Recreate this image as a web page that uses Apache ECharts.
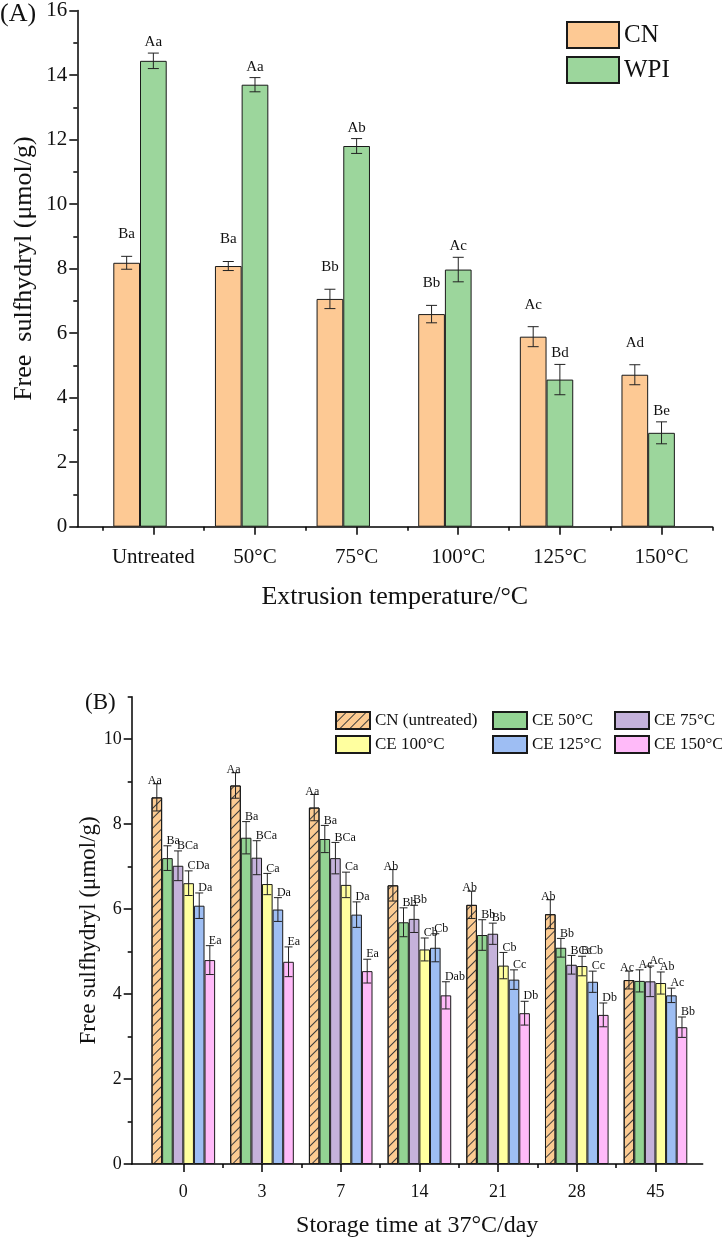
<!DOCTYPE html>
<html><head><meta charset="utf-8">
<script src="https://cdn.jsdelivr.net/npm/echarts@6/dist/echarts.min.js"></script>
<style>html,body{margin:0;padding:0;background:#fff}#c{width:722px;height:1239px}</style>
</head><body><div id="c"></div>
<script>
// ---------- Panel A data ----------
const tempCats = ['Untreated', '50°C', '75°C', '100°C', '125°C', '150°C'];
const cnA = [8.18, 8.08, 7.06, 6.59, 5.89, 4.71];
const cnErrA = [0.20, 0.14, 0.30, 0.27, 0.31, 0.31];
const wpiA = [14.44, 13.70, 11.80, 7.97, 4.56, 2.91];
const wpiErrA = [0.24, 0.22, 0.23, 0.38, 0.47, 0.34];
const cnLblA = ['Ba', 'Ba', 'Bb', 'Bb', 'Ac', 'Ad'];
const wpiLblA = ['Aa', 'Aa', 'Ab', 'Ac', 'Bd', 'Be'];

// ---------- Panel B data ----------
const days = ['0', '3', '7', '14', '21', '28', '45'];
const seriesNamesB = ['CN (untreated)', 'CE 50°C', 'CE 75°C', 'CE 100°C', 'CE 125°C', 'CE 150°C'];
const cnB = [8.63, 8.91, 8.39, 6.56, 6.10, 5.88, 4.33];
const cnErrB = [0.32, 0.30, 0.31, 0.37, 0.32, 0.34, 0.21];
const ce50 = [7.20, 7.68, 7.65, 5.69, 5.39, 5.09, 4.31];
const ce50Err = [0.29, 0.38, 0.32, 0.34, 0.36, 0.22, 0.26];
const ce75 = [7.02, 7.21, 7.20, 5.77, 5.42, 4.69, 4.30];
const ce75Err = [0.35, 0.40, 0.37, 0.32, 0.25, 0.22, 0.36];
const ce100 = [6.61, 6.59, 6.57, 5.05, 4.67, 4.66, 4.26];
const ce100Err = [0.29, 0.25, 0.30, 0.27, 0.31, 0.23, 0.26];
const ce125 = [6.08, 5.99, 5.87, 5.09, 4.34, 4.29, 3.97];
const ce125Err = [0.30, 0.28, 0.30, 0.33, 0.23, 0.25, 0.17];
const ce150 = [4.80, 4.76, 4.54, 3.97, 3.55, 3.51, 3.22];
const ce150Err = [0.34, 0.35, 0.28, 0.32, 0.28, 0.28, 0.24];
const cnLblB = ['Aa', 'Aa', 'Aa', 'Ab', 'Ab', 'Ab', 'Ac'];
const ce50Lbl = ['Ba', 'Ba', 'Ba', 'Bb', 'Bb', 'Bb', 'Ac'];
const ce75Lbl = ['BCa', 'BCa', 'BCa', 'Bb', 'Bb', 'BCc', 'Ac'];
const ce100Lbl = ['CDa', 'Ca', 'Ca', 'Cb', 'Cb', 'BCb', 'Ab'];
const ce125Lbl = ['Da', 'Da', 'Da', 'Cb', 'Cc', 'Cc', 'Ac'];
const ce150Lbl = ['Ea', 'Ea', 'Ea', 'Dab', 'Db', 'Db', 'Bb'];
const yTicksB = [0, 2, 4, 6, 8, 10];
const yMinorB = [1, 3, 5, 7, 9, 11];

// ---------- styles ----------
const FONT = "'Liberation Serif', 'Times New Roman', serif";
const colA = ['#FDC994', '#9CD69C'];
const colB = ['#FCCB92', '#93D393', '#C5B2DB', '#FFFF9F', '#9EBEF3', '#FFBAF9'];
const BW_A = 26.7, BW_B = 10.6;
const SHIFT_A = 0.131;   // tick offset relative to bar-pair centre (layout)

const chart = echarts.init(document.getElementById('c'));

function errSeries(name, xi, yi, vals, errs, labels, offsetPx, cap, mode, fs) {
  return {
    type: 'custom', name: name, xAxisIndex: xi, yAxisIndex: yi, z: 5, clip: false,
    encode: { x: 0, y: 1 },
    data: vals.map((v, i) => [i, v, errs[i]]),
    renderItem: function (params, api) {
      const x = api.value(0), v = api.value(1), e = api.value(2);
      const t = api.coord([x, v + e]), b = api.coord([x, v - e]);
      const cx = t[0] + offsetPx;
      const st = { stroke: '#222', lineWidth: 1 };
      const lbl = labels[params.dataIndex];
      let tx, ty, align;
      if (mode === 'A0') { tx = cx; ty = t[1] - 22; align = 'center'; }
      else if (mode === 'A1') { tx = cx; ty = t[1] - 11; align = 'center'; }
      else if (mode === 'B0') { tx = cx - 2; ty = t[1] - 3; align = 'center'; }
      else { tx = cx - 1; ty = t[1] - 5; align = 'left'; }
      return { type: 'group', children: [
        { type: 'line', shape: { x1: cx, y1: t[1], x2: cx, y2: b[1] }, style: st },
        { type: 'line', shape: { x1: cx - cap, y1: t[1], x2: cx + cap, y2: t[1] }, style: st },
        { type: 'line', shape: { x1: cx - cap, y1: b[1], x2: cx + cap, y2: b[1] }, style: st },
        { type: 'text', x: tx, y: ty, style: { text: lbl, fontFamily: FONT, fontSize: fs, fill: '#111', align: align, verticalAlign: 'middle' } }
      ] };
    }
  };
}

const axisLineStyle = { color: '#000', width: 1.5 };
const tickStyle = { color: '#000', width: 1.5 };

const valsB = [cnB, ce50, ce75, ce100, ce125, ce150];
const errsB = [cnErrB, ce50Err, ce75Err, ce100Err, ce125Err, ce150Err];
const lblsB = [cnLblB, ce50Lbl, ce75Lbl, ce100Lbl, ce125Lbl, ce150Lbl];

const seriesB = [];
valsB.forEach((vals, k) => {
  const it = { color: colB[k], borderColor: '#1a1a1a', borderWidth: 1 };
  if (k === 0) it.decal = { symbol: 'rect', symbolSize: 1, dashArrayX: [1, 0], dashArrayY: [1, 6], rotation: -Math.PI / 4, color: '#3a3a3a' };
  seriesB.push({
    type: 'bar', name: seriesNamesB[k], xAxisIndex: 2, yAxisIndex: 1,
    barWidth: BW_B, barGap: '0%', itemStyle: it,
    data: vals.map((v, i) => [i, v])
  });
});
valsB.forEach((vals, k) => {
  seriesB.push(errSeries('errB' + k, 2, 1, vals, errsB[k], lblsB[k], (k - 2.5) * BW_B, 4, k === 0 ? 'B0' : 'B', 12));
});

const option = {
  animation: false,
  backgroundColor: '#fff',
  textStyle: { fontFamily: FONT },
  grid: [
    { left: 77.3, top: 10, width: 635, height: 516.7 },
    { left: 131.7, top: 696.7, width: 571, height: 468.3 }
  ],
  xAxis: [
    { gridIndex: 0, type: 'value', position: 'bottom', min: -0.748 + SHIFT_A, max: 5.5 + SHIFT_A,
      axisLine: { show: true, onZero: false, lineStyle: axisLineStyle }, splitLine: { show: false },
      axisTick: { show: true, length: 8, lineStyle: tickStyle, customValues: tempCats.map((c, i) => i + SHIFT_A) },
      axisLabel: { customValues: tempCats.map((c, i) => i + SHIFT_A), formatter: v => tempCats[Math.round(v - SHIFT_A)],
        fontFamily: FONT, fontSize: 21, color: '#111', margin: 20 },
      name: 'Extrusion temperature/°C', nameLocation: 'middle', nameGap: 57, nameMoveOverlap: false,
      nameTextStyle: { fontFamily: FONT, fontSize: 26, color: '#111' } },
    { gridIndex: 0, type: 'value', position: 'bottom', min: -0.748 + SHIFT_A, max: 5.5 + SHIFT_A,
      axisLine: { show: false, onZero: false }, splitLine: { show: false }, axisLabel: { show: false },
      axisTick: { show: true, length: 4, lineStyle: tickStyle, customValues: tempCats.map((c, i) => i - 0.5 + SHIFT_A).concat([5.5 + SHIFT_A]) } },
    { gridIndex: 1, type: 'value', position: 'bottom', min: -0.656, max: 6.6,
      axisLine: { show: true, onZero: false, lineStyle: axisLineStyle }, splitLine: { show: false },
      axisTick: { show: true, length: 8, lineStyle: tickStyle, customValues: days.map((d, i) => i) },
      axisLabel: { customValues: days.map((d, i) => i), formatter: v => days[Math.round(v)],
        fontFamily: FONT, fontSize: 18, color: '#111', margin: 19 },
      name: 'Storage time at 37°C/day', nameLocation: 'middle', nameGap: 50, nameMoveOverlap: false,
      nameTextStyle: { fontFamily: FONT, fontSize: 24, color: '#111' } },
    { gridIndex: 1, type: 'value', position: 'bottom', min: -0.656, max: 6.6,
      axisLine: { show: false, onZero: false }, splitLine: { show: false }, axisLabel: { show: false },
      axisTick: { show: true, length: 4, lineStyle: tickStyle, customValues: days.slice(1).map((d, i) => i + 0.5) } }
  ],
  yAxis: [
    { gridIndex: 0, type: 'value', position: 'left', min: 0, max: 16, interval: 2,
      axisLine: { show: true, onZero: false, lineStyle: axisLineStyle }, splitLine: { show: false },
      axisTick: { show: true, length: 8, lineStyle: tickStyle },
      minorTick: { show: true, splitNumber: 2, length: 4, lineStyle: tickStyle },
      axisLabel: { fontFamily: FONT, fontSize: 21, color: '#111', margin: 10 },
      name: 'Free  sulfhydryl (μmol/g)', nameLocation: 'middle', nameGap: 40, nameMoveOverlap: false,
      nameTextStyle: { fontFamily: FONT, fontSize: 26, color: '#111' } },
    { gridIndex: 1, type: 'value', position: 'left', min: 0, max: 11,
      axisLine: { show: true, onZero: false, lineStyle: axisLineStyle }, splitLine: { show: false },
      axisTick: { show: true, length: 8, lineStyle: tickStyle, customValues: yTicksB },
      axisLabel: { fontFamily: FONT, fontSize: 18, color: '#111', margin: 10, customValues: yTicksB },
      name: 'Free sulfhydryl (μmol/g)', nameLocation: 'middle', nameGap: 31, nameMoveOverlap: false,
      nameTextStyle: { fontFamily: FONT, fontSize: 23, color: '#111' } },
    { gridIndex: 1, type: 'value', position: 'left', min: 0, max: 11,
      axisLine: { show: false, onZero: false }, splitLine: { show: false }, axisLabel: { show: false },
      axisTick: { show: true, length: 4, lineStyle: tickStyle, customValues: yMinorB } }
  ],
  legend: [
    { data: ['CN', 'WPI'], orient: 'vertical', left: 561, top: 16, icon: 'rect',
      itemWidth: 52, itemHeight: 26, itemGap: 7, textStyle: { fontFamily: FONT, fontSize: 25, color: '#111' } },
    { data: [seriesNamesB[0], seriesNamesB[3]], orient: 'vertical', left: 330, top: 706, icon: 'rect',
      itemWidth: 34, itemHeight: 17, itemGap: 5, textStyle: { fontFamily: FONT, fontSize: 17, color: '#111' } },
    { data: [seriesNamesB[1], seriesNamesB[4]], orient: 'vertical', left: 487, top: 706, icon: 'rect',
      itemWidth: 34, itemHeight: 17, itemGap: 5, textStyle: { fontFamily: FONT, fontSize: 17, color: '#111' } },
    { data: [seriesNamesB[2], seriesNamesB[5]], orient: 'vertical', left: 609, top: 706, icon: 'rect',
      itemWidth: 34, itemHeight: 17, itemGap: 5, textStyle: { fontFamily: FONT, fontSize: 17, color: '#111' } }
  ],
  graphic: [
    { type: 'text', left: 0, top: 1, style: { text: '(A)', fontFamily: FONT, fontSize: 26, fill: '#111' } },
    { type: 'text', left: 85, top: 691, style: { text: '(B)', fontFamily: FONT, fontSize: 23, fill: '#111' } }
  ],
  series: [
    { type: 'bar', name: 'CN', xAxisIndex: 0, yAxisIndex: 0, barWidth: BW_A, barGap: '0%',
      itemStyle: { color: colA[0], borderColor: '#1a1a1a', borderWidth: 1 },
      data: cnA.map((v, i) => [i, v]) },
    { type: 'bar', name: 'WPI', xAxisIndex: 0, yAxisIndex: 0, barWidth: BW_A, barGap: '0%',
      itemStyle: { color: colA[1], borderColor: '#1a1a1a', borderWidth: 1 },
      data: wpiA.map((v, i) => [i, v]) },
    errSeries('errA0', 0, 0, cnA, cnErrA, cnLblA, -BW_A / 2, 5.5, 'A0', 15),
    errSeries('errA1', 0, 0, wpiA, wpiErrA, wpiLblA, BW_A / 2, 5.5, 'A1', 15)
  ].concat(seriesB)
};
chart.setOption(option);
</script></body></html>
